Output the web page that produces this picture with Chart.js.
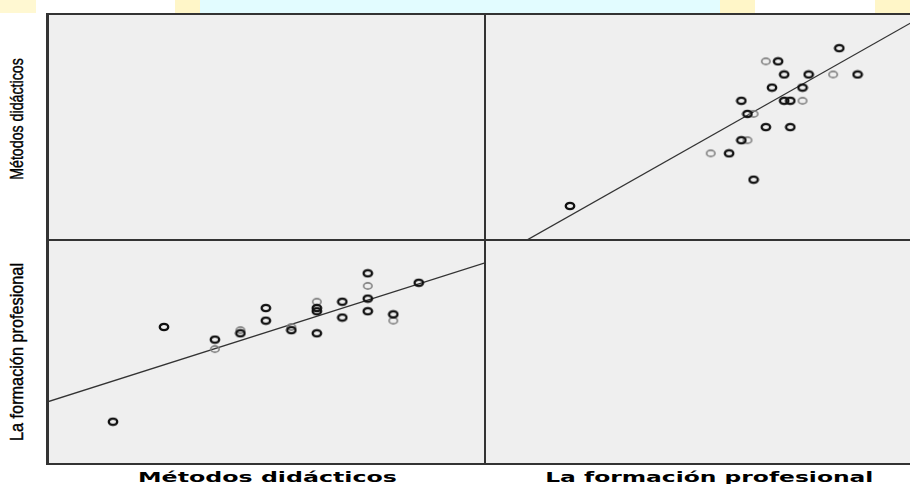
<!DOCTYPE html>
<html lang="es">
<head>
<meta charset="UTF-8">
<title>Métodos didácticos y formación profesional</title>
<script src="https://cdn.jsdelivr.net/npm/chart.js"></script>
<style>
  body { margin: 0; width: 910px; height: 484px; overflow: hidden; position: relative; background: #fff; }
  .cell { position: absolute; background: #efefef; }
  .rule { position: absolute; background: #333; z-index: 5; }
  .mark { position: absolute; top: 0; height: 13px; }
  canvas { position: absolute; z-index: 2; }
  .label { position: absolute; white-space: nowrap; color: #000; z-index: 6; }
  .xlabel { font: bold 14px "DejaVu Sans", Verdana, sans-serif; line-height: 16px; }
  .ylabel { font: 19px "Liberation Sans", Arial, sans-serif; line-height: 20px; -webkit-text-stroke: 0.4px #000; }
</style>
</head>
<body>
  <!-- faint watermark band at the top -->
  <div class="mark" style="left:0;width:36px;background:#fff8d2"></div>
  <div class="mark" style="left:175px;width:25px;background:#fff6c8"></div>
  <div class="mark" style="left:200px;width:520px;background:#e2fcff"></div>
  <div class="mark" style="left:720px;width:35px;background:#fff6c8"></div>
  <div class="mark" style="left:875px;width:35px;background:#fff6c8"></div>

  <div class="cell" style="left:47px;top:14px;width:863px;height:450px"></div>
  <canvas id="topRight" width="425" height="226" style="left:485px;top:14px"></canvas>
  <canvas id="bottomLeft" width="438" height="224" style="left:47px;top:240px"></canvas>

  <div class="rule" style="left:47px;top:13px;width:863px;height:2px"></div>
  <div class="rule" style="left:46px;top:13px;width:3px;height:452px"></div>
  <div class="rule" style="left:46px;top:463px;width:864px;height:2px"></div>
  <div class="rule" style="left:484px;top:13px;width:2px;height:452px"></div>
  <div class="rule" style="left:47px;top:239px;width:863px;height:2px"></div>

  <div class="label xlabel" id="lx1">Métodos didácticos</div>
  <div class="label xlabel" id="lx2">La formación profesional</div>
  <div class="label ylabel" id="ly1">Métodos didácticos</div>
  <div class="label ylabel" id="ly2">La formación profesional</div>

<script>
// scores, one entry per respondent
const metodos   = [18, 20, 22, 22, 23, 23, 24, 24, 25, 25, 26, 26, 26, 26, 27, 27, 28, 28, 28, 28, 29, 29, 30];
const formacion = [40, 70, 63, 66, 68, 69, 72, 76, 69, 70, 68, 75, 76, 78, 73, 78, 75, 79, 83, 87, 72, 74, 84];
// 1 = dark (overlapping) marker, 0 = light marker
const darkPoint = [1, 1, 0, 1, 1, 0, 1, 1, 1, 0, 1, 1, 1, 0, 1, 1, 1, 1, 0, 1, 0, 1, 1];

// fit lines (end points)
const fitFormacionX = [26.1, 95.6];
const fitMetodosY   = [13.6, 31.9];
const fitMetodosX   = [15.4, 32.6];
const fitFormacionY = [46.2, 90.3];

// axis ranges of each panel
const metodosRange    = [15.41, 32.6];
const formacionRangeX = [26.11, 95.56];
const formacionRangeY = [26.6, 97.55];

// ring shaped markers, a bit wider than tall like the picture
function ring(color, width) {
    const c = document.createElement('canvas');
    c.width = 12; c.height = 10;
    const g = c.getContext('2d');
    g.strokeStyle = color;
    g.lineWidth = width;
    g.beginPath();
    g.ellipse(6, 5, 4.2, 3.1, 0, 0, Math.PI * 2);
    g.stroke();
    return c;
}
const darkRing = ring('#111', 2.4);
const lightRing = ring('#808080', 1.6);

function points(xs, ys, dark) {
    const out = [];
    xs.forEach((x, i) => {
        if (darkPoint[i] === dark) out.push({ x: x, y: ys[i] });
    });
    return out;
}

function panel(id, xs, ys, fitX, fitY, xRange, yRange) {
    new Chart(document.getElementById(id), {
        type: 'scatter',
        data: {
            datasets: [
                { data: points(xs, ys, 1), pointStyle: darkRing, pointRadius: 5, order: 0 },
                { data: points(xs, ys, 0), pointStyle: lightRing, pointRadius: 5, order: 1 },
                {
                    data: [{ x: fitX[0], y: fitY[0] }, { x: fitX[1], y: fitY[1] }],
                    showLine: true, pointRadius: 0, borderColor: '#333', borderWidth: 1.3, order: 2
                }
            ]
        },
        options: {
            responsive: false,
            animation: false,
            layout: { padding: 0, autoPadding: false },
            plugins: { legend: { display: false }, tooltip: { enabled: false } },
            scales: {
                x: { type: 'linear', display: false, min: xRange[0], max: xRange[1] },
                y: { type: 'linear', display: false, min: yRange[0], max: yRange[1] }
            }
        }
    });
}

panel('topRight', formacion, metodos, fitFormacionX, fitMetodosY, formacionRangeX, metodosRange);
panel('bottomLeft', metodos, formacion, fitMetodosX, fitFormacionY, metodosRange, formacionRangeY);

// place a label centred on (cx, cy), stretched to the given length
function placeLabel(id, cx, cy, length, vertical) {
    const el = document.getElementById(id);
    const w = el.offsetWidth, h = el.offsetHeight;
    el.style.left = (cx - w / 2) + 'px';
    el.style.top = (cy - h / 2) + 'px';
    el.style.transformOrigin = 'center center';
    el.style.transform = (vertical ? 'rotate(-90deg) ' : '') + 'scaleX(' + (length / w) + ')';
}
placeLabel('lx1', 267.5, 477, 259, false);
placeLabel('lx2', 709.5, 477, 329, false);
placeLabel('ly1', 17, 119, 122, true);
placeLabel('ly2', 17, 352, 178, true);
</script>
</body>
</html>
